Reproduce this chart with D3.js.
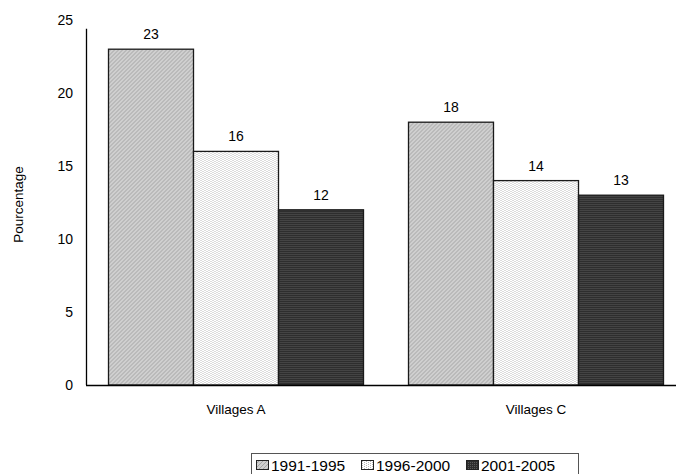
<!DOCTYPE html>
<html>
<head>
<meta charset="utf-8">
<script src="https://cdn.jsdelivr.net/npm/d3@7"></script>
<style>
  html, body { margin: 0; padding: 0; background: #fff; }
  svg { display: block; font-family: "Liberation Sans", Arial, sans-serif; }
</style>
</head>
<body>
<svg id="chart" width="676" height="474"></svg>
<script>
// Data
const villages = ["Villages A", "Villages C"];
const periods = ["1991-1995", "1996-2000", "2001-2005"];
const pct1991 = [23, 18];
const pct1996 = [16, 14];
const pct2001 = [12, 13];
const yTicks = [0, 5, 10, 15, 20, 25];
const yTitle = "Pourcentage";

const seriesValues = [pct1991, pct1996, pct2001];

const svg = d3.select("#chart");
const defs = svg.append("defs");

// Pixel fill patterns, one per period
function pixelPattern(id, size, bg, fg, pixels) {
  const p = defs.append("pattern")
    .attr("id", id).attr("patternUnits", "userSpaceOnUse")
    .attr("width", size).attr("height", size);
  p.append("rect").attr("width", size).attr("height", size).attr("fill", bg);
  pixels.forEach(([px, py]) => {
    p.append("rect").attr("x", px).attr("y", py).attr("width", 1).attr("height", 1).attr("fill", fg);
  });
}
pixelPattern("pat0", 4, "#cfcfcf", "#a4a4a4", [[0,3],[1,2],[2,1],[3,0]]);
pixelPattern("pat1", 4, "#ffffff", "#b8b8b8", [[0,0],[2,1],[0,2],[2,3]]);
pixelPattern("pat2", 2, "#2e2e2e", "#5a5a5a", [[0,0]]);
const fills = ["url(#pat0)", "url(#pat1)", "url(#pat2)"];

// Scales
const x0 = d3.scaleBand().domain(villages).range([86, 686]).paddingInner(0.15).paddingOuter(0.075);
const x1 = d3.scaleBand().domain(periods).range([0, x0.bandwidth()]);
const y = d3.scaleLinear().domain([0, 25]).range([385, 20]);

// Y axis (labels only, no tick marks)
const yAxis = d3.axisLeft(y).tickValues(yTicks).tickSize(0).tickPadding(13);
const yg = svg.append("g").attr("transform", "translate(86,0)").call(yAxis);
yg.select(".domain").remove();
yg.selectAll("text").attr("font-size", 14).attr("fill", "#000")
  .attr("font-family", "Liberation Sans, Arial, sans-serif");

svg.append("line")
  .attr("x1", 86.5).attr("x2", 86.5)
  .attr("y1", y(24.4)).attr("y2", y(0))
  .attr("stroke", "#000").attr("stroke-width", 1.3);

// Y title
svg.append("text")
  .attr("transform", `translate(23,${(y(0) + y(25)) / 2 + 2}) rotate(-90)`)
  .attr("text-anchor", "middle")
  .attr("font-size", 13.5)
  .text(yTitle);

// Bars
const groups = svg.append("g").selectAll("g")
  .data(villages)
  .join("g")
  .attr("transform", d => `translate(${x0(d)},0)`);

groups.selectAll("rect")
  .data((d, i) => periods.map((p, k) => ({ period: p, k, value: seriesValues[k][i] })))
  .join("rect")
  .attr("x", d => x1(d.period))
  .attr("y", d => y(d.value))
  .attr("width", x1.bandwidth())
  .attr("height", d => y(0) - y(d.value))
  .attr("fill", d => fills[d.k])
  .attr("stroke", "#1a1a1a")
  .attr("stroke-width", 1.3);

groups.selectAll("text.val")
  .data((d, i) => periods.map((p, k) => ({ period: p, k, value: seriesValues[k][i] })))
  .join("text")
  .attr("class", "val")
  .attr("x", d => x1(d.period) + x1.bandwidth() / 2)
  .attr("y", d => y(d.value) - 10)
  .attr("text-anchor", "middle")
  .attr("font-size", 14)
  .text(d => d.value);

// X axis line and category labels
svg.append("line")
  .attr("x1", 86).attr("x2", 686)
  .attr("y1", y(0) + 0.5).attr("y2", y(0) + 0.5)
  .attr("stroke", "#000").attr("stroke-width", 1.3);

svg.append("g").selectAll("text")
  .data(villages)
  .join("text")
  .attr("x", d => x0(d) + x0.bandwidth() / 2)
  .attr("y", 414)
  .attr("text-anchor", "middle")
  .attr("font-size", 13.5)
  .text(d => d);

// Legend
const legend = svg.append("g");
legend.append("rect")
  .attr("x", 251.5).attr("y", 453.5).attr("width", 327).attr("height", 24)
  .attr("fill", "#fff").attr("stroke", "#555").attr("stroke-width", 1);

const legendStep = 105;
periods.forEach((p, k) => {
  const lx = 256 + k * legendStep;
  legend.append("rect")
    .attr("x", lx + 0.5).attr("y", 460.5).attr("width", 12).attr("height", 9)
    .attr("fill", fills[k]).attr("stroke", "#222").attr("stroke-width", 1);
  legend.append("text")
    .attr("x", lx + 15).attr("y", 470.5)
    .attr("font-size", 15.5)
    .text(p);
});
</script>
</body>
</html>
